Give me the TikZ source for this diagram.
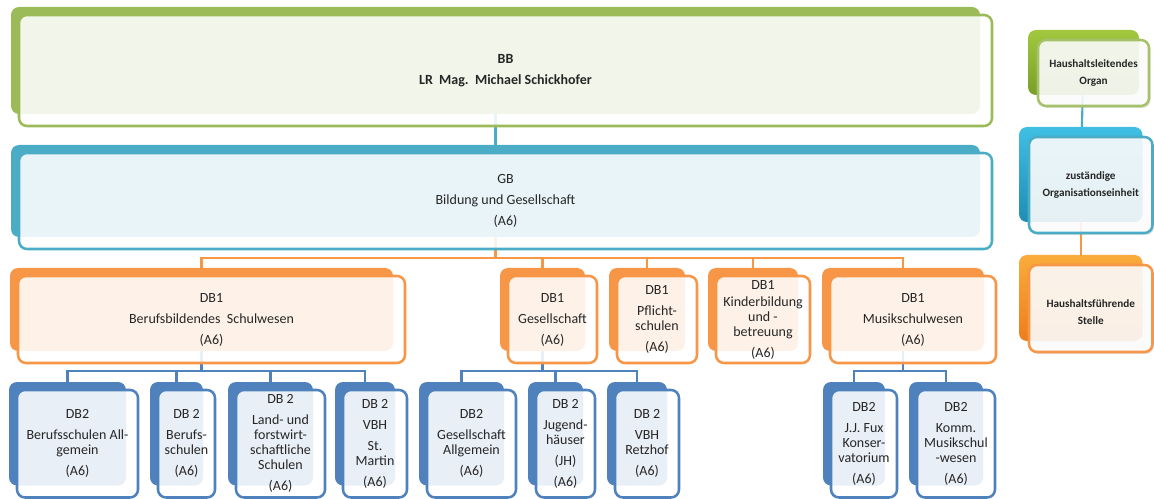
\documentclass[tikz,border=0pt]{standalone}
\usepackage{fontspec}
\setmainfont{Carlito}
\usetikzlibrary{fit,backgrounds,calc,shadows}
\definecolor{cgreen}{HTML}{9BBB59}
\definecolor{cteal}{HTML}{4BACC6}
\definecolor{corange}{HTML}{F79646}
\definecolor{cblue}{HTML}{4F81BD}
\definecolor{ctext}{HTML}{262626}
\definecolor{lgtop}{HTML}{A2C83E}
\definecolor{lgbot}{HTML}{789F28}
\definecolor{lttop}{HTML}{40BFE3}
\definecolor{ltbot}{HTML}{1E8DB4}
\definecolor{lotop}{HTML}{F9AC3C}
\definecolor{lobot}{HTML}{EE7D1C}
\def\oa{8}
\def\ob{12}
\tikzset{
  backbox/.style={fill=#1, draw=none, rounded corners=6pt, inner sep=0pt},
  frontbox/.style={fill=white, fill opacity=0.88, draw=#1, line width=1.9pt, rounded corners=6pt, inner sep=0pt},
  lbl/.style={text=ctext, align=center, font=\fontsize{10.5}{11.25}\selectfont, inner sep=0pt},
  leglbl/.style={text=ctext, align=center, font=\fontsize{8.4}{12.75}\selectfont\bfseries, inner sep=0pt},
  legshadow/.style={drop shadow={shadow xshift=1.2pt, shadow yshift=-1.5pt, opacity=0.22}},
  conn/.style={draw=#1, line width=1.6pt},
}
\newcommand\orgbox[6]{%
  \node[backbox=#2, fit={(#3-\oa,#4-\oa) (#5-\ob,#6-\ob)}] (#1-b) {};
  \node[frontbox=#2, fit={(#3,#4) (#5,#6)}] (#1-f) {};
}
\newcommand\legbox[8]{%
  \node[fit={(#5-10,#6-10) (#7-10,#8-11)}, inner sep=0pt, rounded corners=6pt, top color=#2, bottom color=#3] (#1-b) {};
  \node[frontbox=#4, legshadow, fit={(#5,#6) (#7,#8)}] (#1-f) {};
}
\begin{document}
\begin{tikzpicture}[x=0.75pt,y=-0.75pt]
\useasboundingbox (0,0) rectangle (1154,499);

% top levels
\orgbox{bb}{cgreen}{19}{15}{992}{126}
\node[lbl, font=\fontsize{10.5}{11.25}\selectfont\bfseries] at (bb-f.center) {BB\\[4.5pt]LR\ \ Mag.\ \ Michael Schickhofer};
\orgbox{gb}{cteal}{19}{153}{992}{249}
\node[lbl] at (gb-f.center) {GB\\[4.5pt]Bildung und Gesellschaft\\[4.5pt](A6)};

% DB1
\orgbox{d1}{corange}{18}{276}{405}{363}
\node[lbl] at (d1-f.center) {DB1\\[4.5pt]Berufsbildendes\ \ Schulwesen\\[4.5pt](A6)};
\orgbox{d2}{corange}{508}{276}{597}{363}
\node[lbl] at (d2-f.center) {DB1\\[4.5pt]Gesellschaft\\[4.5pt](A6)};
\orgbox{d3}{corange}{617}{276}{697}{363}
\node[lbl] at (d3-f.center) {DB1\\[4.5pt]Pflicht-\\schulen\\[4.5pt](A6)};
\orgbox{d4}{corange}{716}{276}{810}{363}
\node[lbl] at (d4-f.center) {DB1\\[1.5pt]Kinderbildung\\und -\\betreuung\\[4.5pt](A6)};
\orgbox{d5}{corange}{830}{276}{996}{363}
\node[lbl] at (d5-f.center) {DB1\\[4.5pt]Musikschulwesen\\[4.5pt](A6)};

% DB2
\orgbox{e1}{cblue}{17}{390}{138}{497.5}
\node[lbl] at (e1-f.center) {DB2\\[4.5pt]Berufsschulen All-\\gemein\\[4.5pt](A6)};
\orgbox{e2}{cblue}{158}{390}{215}{497.5}
\node[lbl] at (e2-f.center) {DB 2\\[4.5pt]Berufs-\\schulen\\[4.5pt](A6)};
\orgbox{e3}{cblue}{236}{390}{325}{497.5}
\node[lbl] at (e3-f.center) {DB 2\\[4.5pt]Land- und\\forstwirt-\\schaftliche\\Schulen\\[4.5pt](A6)};
\orgbox{e4}{cblue}{343}{390}{407}{497.5}
\node[lbl] at (e4-f.center) {DB 2\\[4.5pt]VBH\\[4.5pt]St.\\Martin\\[4.5pt](A6)};
\orgbox{e5}{cblue}{427}{390}{516}{497.5}
\node[lbl] at (e5-f.center) {DB2\\[4.5pt]Gesellschaft\\Allgemein\\[4.5pt](A6)};
\orgbox{e6}{cblue}{536}{390}{595}{497.5}
\node[lbl] at (e6-f.center) {DB 2\\[4.5pt]Jugend-\\häuser\\[4.5pt](JH)\\[4.5pt](A6)};
\orgbox{e7}{cblue}{615}{390}{679}{497.5}
\node[lbl] at (e7-f.center) {DB 2\\[4.5pt]VBH\\Retzhof\\[4.5pt](A6)};
\orgbox{e8}{cblue}{831}{390}{897}{497.5}
\node[lbl] at (e8-f.center) {DB2\\[4.5pt]J.J. Fux\\Konser-\\vatorium\\[4.5pt](A6)};
\orgbox{e9}{cblue}{917}{390}{995}{497.5}
\node[lbl] at (e9-f.center) {DB2\\[4.5pt]Komm.\\Musikschul\\-wesen\\[4.5pt](A6)};

% legend
\legbox{l1}{lgtop}{lgbot}{cgreen!90!white}{1038}{40}{1149}{106}
\node[leglbl] at (l1-f.center) {Haushaltsleitendes\\Organ};
\legbox{l2}{lttop}{ltbot}{cteal}{1029}{137}{1152.5}{233}
\node[leglbl] at (l2-f.center) {zuständige\\Organisationseinheit};
\legbox{l3}{lotop}{lobot}{corange}{1029}{265}{1152.5}{352}
\node[leglbl, yshift=-3pt] at (l3-f.center) {Haushaltsführende\\Stelle};

% connectors
\begin{scope}[on background layer]
  \draw[conn=cteal] (bb-b.center) -- (gb-b.center);
  \coordinate (h1) at (0,258);
  \foreach \c in {d1,d2,d3,d4,d5}
    \draw[conn=corange] (gb-b.center) -- (gb-b.center |- h1) -| (\c-b.center);
  \coordinate (h2) at (0,371);
  \foreach \c in {e1,e2,e3,e4}
    \draw[conn=cblue] (d1-b.center) -- (d1-b.center |- h2) -| (\c-b.center);
  \foreach \c in {e5,e6,e7}
    \draw[conn=cblue] (d2-b.center) -- (d2-b.center |- h2) -| (\c-b.center);
  \foreach \c in {e8,e9}
    \draw[conn=cblue] (d5-b.center) -- (d5-b.center |- h2) -| (\c-b.center);
  \draw[conn=cteal] (l1-b.center) -- (l2-b.center);
  \draw[conn=corange] (l2-b.center) -- (l3-b.center);
\end{scope}
\end{tikzpicture}
\end{document}
